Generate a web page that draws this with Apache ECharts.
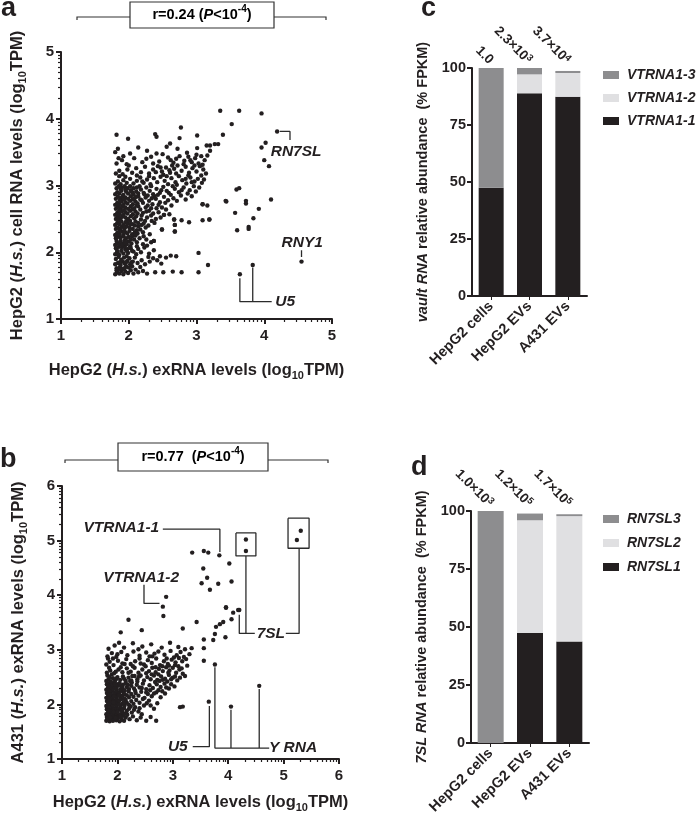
<!DOCTYPE html>
<html><head><meta charset="utf-8">
<script src="https://cdn.jsdelivr.net/npm/echarts@6/dist/echarts.min.js"></script>
<style>html,body{margin:0;padding:0;background:#fff}#c{width:697px;height:833px}</style>
</head><body><div id="c"></div>
<script>
// ---------------- DATA ----------------
const categories = ['HepG2 cells', 'HepG2 EVs', 'A431 EVs'];
const vtrna1_1 = [47.5, 88.9, 87.4];
const vtrna1_2 = [0, 8.3, 10.4];
const vtrna1_3 = [52.5, 2.8, 0.9];
const vaultFold = [['1.0', ''], ['2.3×10', '3'], ['3.7×10', '4']];
const rn7sl1 = [0, 47.4, 43.8];
const rn7sl2 = [0, 48.6, 54.0];
const rn7sl3 = [100, 2.9, 0.8];
const sl7Fold = [['1.0×10', '3'], ['1.2×10', '5'], ['1.7×10', '5']];
const logMinor = [0.301, 0.477, 0.602, 0.699, 0.778, 0.845, 0.903, 0.954];

// Panel a: HepG2 exRNA (x) vs HepG2 cell RNA (y), log10 TPM
const aPoints = [
[1.80,1.67],[1.83,1.70],[1.86,1.68],[1.89,1.72],[1.92,1.67],[1.95,1.71],[1.99,1.69],[2.03,1.73],[2.07,1.68],[1.82,1.76],[1.87,1.78],[1.91,1.75],[1.96,1.79],[2.00,1.77],[2.10,1.74],[2.14,1.70],[2.21,1.72],[2.27,1.68],[2.39,1.70],[2.51,1.70],[2.65,1.71],[2.78,1.70],[3.03,1.70],[2.05,1.79],[2.17,1.78],
[1.80,1.82],[1.84,1.84],[1.88,1.81],[1.91,1.86],[1.94,1.83],[1.98,1.87],[2.02,1.82],[2.06,1.86],[1.81,1.90],[1.85,1.93],[1.89,1.89],[1.93,1.92],[1.97,1.94],[2.01,1.91],[2.09,1.92],[2.13,1.84],[2.19,1.88],[2.24,1.82],[2.31,1.86],[2.42,1.88],[2.48,1.83],[3.17,1.81],[2.29,1.93],[2.36,1.91],[2.46,1.94],[2.55,1.92],[2.62,1.95],[2.70,1.94],
[1.80,1.97],[1.83,2.00],[1.86,1.96],[1.89,2.02],[1.92,1.98],[1.95,2.04],[1.99,1.99],[2.03,2.06],[2.07,2.01],[1.81,2.06],[1.85,2.08],[1.90,2.07],[1.94,2.09],[1.98,2.05],[2.02,2.09],[2.11,1.97],[2.14,2.05],[2.18,2.00],[2.23,2.07],[2.30,1.98],[2.37,2.03],[3.03,1.99],[2.12,2.09],[2.27,2.10],
[1.80,2.11],[1.83,2.14],[1.86,2.12],[1.88,2.17],[1.91,2.13],[1.94,2.18],[1.97,2.12],[2.00,2.16],[2.04,2.13],[2.08,2.19],[1.81,2.21],[1.84,2.23],[1.88,2.22],[1.92,2.24],[1.96,2.21],[2.00,2.23],[2.05,2.24],[2.12,2.15],[2.16,2.21],[2.21,2.12],[2.26,2.19],[2.33,2.15],[2.37,2.17],[2.22,2.24],
[1.80,2.26],[1.83,2.29],[1.86,2.27],[1.89,2.31],[1.92,2.26],[1.95,2.30],[1.98,2.28],[2.01,2.32],[2.05,2.27],[2.09,2.30],[1.81,2.35],[1.84,2.37],[1.87,2.34],[1.90,2.38],[1.94,2.36],[1.97,2.39],[2.01,2.37],[2.06,2.35],[2.13,2.28],[2.17,2.34],[2.21,2.30],[2.25,2.37],[2.31,2.27],[2.49,2.34],[2.68,2.31],[2.68,2.41],[2.14,2.39],
[1.80,2.41],[1.83,2.44],[1.86,2.42],[1.89,2.46],[1.92,2.41],[1.95,2.45],[1.98,2.43],[2.02,2.47],[2.06,2.42],[2.10,2.46],[1.81,2.50],[1.84,2.53],[1.88,2.51],[1.91,2.54],[1.95,2.52],[1.99,2.50],[2.03,2.54],[2.08,2.51],[2.14,2.44],[2.18,2.49],[2.22,2.43],[2.27,2.52],[2.34,2.47],[2.67,2.49],[2.78,2.48],[2.89,2.45],[3.09,2.48],[3.19,2.49],[2.52,2.56],[2.40,2.50],
[1.80,2.56],[1.83,2.59],[1.86,2.57],[1.89,2.61],[1.92,2.56],[1.95,2.60],[1.98,2.58],[2.02,2.62],[2.06,2.57],[2.10,2.61],[1.81,2.65],[1.84,2.68],[1.88,2.66],[1.91,2.69],[1.95,2.67],[1.99,2.65],[2.03,2.69],[2.08,2.66],[2.13,2.58],[2.17,2.64],[2.21,2.59],[2.25,2.67],[2.30,2.62],[2.36,2.58],[2.41,2.66],[2.14,2.69],[2.28,2.70],
[1.80,2.71],[1.83,2.74],[1.86,2.72],[1.89,2.76],[1.92,2.71],[1.95,2.75],[1.98,2.73],[2.02,2.77],[2.06,2.72],[2.10,2.76],[1.81,2.80],[1.84,2.83],[1.88,2.81],[1.91,2.84],[1.95,2.82],[1.99,2.80],[2.03,2.84],[2.08,2.81],[2.13,2.73],[2.17,2.79],[2.21,2.74],[2.25,2.82],[2.30,2.77],[2.35,2.72],[2.40,2.80],[2.46,2.75],[2.52,2.83],[2.58,2.78],[2.14,2.84],[2.28,2.85],[2.38,2.84],[3.09,2.72],
[1.80,2.87],[1.83,2.90],[1.86,2.88],[1.89,2.92],[1.92,2.86],[1.96,2.91],[1.99,2.88],[2.03,2.93],[2.07,2.87],[2.11,2.91],[1.82,2.96],[1.85,2.99],[1.90,2.97],[1.94,2.99],[1.98,2.96],[2.02,2.99],[2.07,2.96],[2.14,2.88],[2.18,2.94],[2.22,2.89],[2.26,2.97],[2.31,2.92],[2.36,2.87],[2.41,2.95],[2.46,2.89],[2.51,2.98],[2.56,2.92],[2.62,2.86],[2.68,2.95],[2.74,2.90],[2.81,2.97],[2.16,2.99],[2.33,2.99],[2.90,2.93],[2.96,2.99],
[1.80,3.03],[1.84,3.06],[1.88,3.02],[1.92,3.08],[1.97,3.04],[2.02,3.10],[2.07,3.03],[2.12,3.07],[2.17,3.12],[2.22,3.04],[2.27,3.09],[2.32,3.02],[2.37,3.11],[2.42,3.05],[2.47,3.13],[2.53,3.07],[2.58,3.02],[2.63,3.11],[2.69,3.05],[2.74,3.14],[2.79,3.08],[2.85,3.03],[2.91,3.12],[2.97,3.06],[3.02,3.10],[3.08,3.04],[1.86,3.14],[1.95,3.13],[2.56,3.14],[2.88,3.15],
[1.81,3.18],[1.86,3.22],[1.91,3.17],[1.98,3.24],[2.05,3.19],[2.11,3.26],[2.18,3.20],[2.24,3.28],[2.30,3.18],[2.36,3.24],[2.43,3.29],[2.49,3.21],[2.55,3.27],[2.61,3.19],[2.67,3.25],[2.72,3.30],[2.78,3.22],[2.84,3.28],[2.89,3.19],[2.94,3.26],[3.00,3.21],[3.05,3.29],[3.10,3.24],[3.14,3.18],[2.97,3.30],[2.64,3.30],
[1.82,3.33],[1.90,3.38],[1.97,3.32],[2.08,3.41],[2.20,3.35],[2.33,3.43],[2.45,3.36],[2.58,3.42],[2.66,3.34],[2.75,3.44],[2.82,3.37],[2.88,3.43],[2.93,3.35],[2.98,3.41],[3.03,3.33],[3.07,3.44],[3.12,3.38],[3.16,3.45],[2.70,3.40],
[1.80,3.50],[1.84,3.55],[2.14,3.57],[2.27,3.52],[2.41,3.48],[2.56,3.58],[2.72,3.55],[2.86,3.49],[3.01,3.56],[3.15,3.60],[3.20,3.52],[3.27,3.62],
[1.82,3.76],[1.99,3.70],[2.39,3.77],[2.41,3.73],[2.61,3.63],[2.75,3.71],[2.77,3.87],[3.01,3.75],[3.32,3.62],[3.39,3.76],[3.20,3.60],[3.35,4.12],[3.63,4.12],[3.96,4.08],[3.52,3.92],[4.19,3.81],[4.02,3.64],[3.96,3.57],[4.00,3.38],[4.07,3.29],
[3.59,2.94],[3.63,2.96],[3.09,2.72],[3.44,2.76],[3.73,2.77],[3.73,2.73],[4.10,2.79],[3.57,2.59],[3.92,2.65],[3.84,2.51],[3.60,2.33],[3.77,2.38],[3.77,2.35],[2.52,2.56],[2.67,2.49],[2.68,2.41],[2.68,2.31],[3.19,2.49],[2.49,2.34],[2.37,2.17],[3.16,2.70],[3.43,2.77],
[3.64,1.67],[3.83,1.81],[4.55,1.86],
[2.12,2.33],[2.19,2.41],[2.24,2.47],[2.29,2.40],[2.33,2.55],[2.38,2.44],[2.44,2.60],[2.47,2.52],[2.55,2.64],[2.60,2.57],[2.19,2.55],[2.26,2.61],[2.33,2.66],[2.44,2.71],[2.49,2.67],[2.54,2.74],[2.63,2.70],[2.66,2.81],[2.71,2.77],[2.77,2.85],[2.84,2.79],[2.87,2.88],[2.93,2.84],[2.99,2.91],[3.04,2.97],[3.07,3.15],[3.11,3.09],[2.19,2.78],[2.23,2.87],[2.34,2.81],[2.43,2.86],[2.48,2.93],[2.59,2.89],[2.65,2.99],[2.71,3.01],[2.78,2.93],[2.84,3.10],[2.93,3.05],[2.12,2.97],[2.20,3.06],[2.30,3.14],[2.40,3.20],[2.51,3.16],[2.60,3.23],[2.70,3.18],[2.81,3.32],[2.91,3.38],[3.00,3.46],[3.09,3.31],[2.47,3.27],[2.36,3.33],[2.26,3.40],[2.12,3.15],[2.00,3.30],[1.92,3.44],[1.85,3.41],[2.02,3.48],[2.50,3.47],[2.62,3.38],
[1.82,1.73],[1.85,1.75],[1.94,1.76],[1.87,1.85],[1.96,1.85],[2.04,1.85],[1.84,1.97],[1.97,2.02],[2.05,2.02],[1.82,2.17],[1.95,2.15],[2.03,2.19],[1.86,2.31],[1.93,2.32],[2.03,2.42],[1.97,2.47],[1.85,2.48],[1.86,2.63],[1.93,2.63],[2.05,2.64],[1.87,2.78],[1.93,2.79],[2.06,2.79],[1.88,2.95],[1.95,2.94],[2.05,2.90],[1.83,2.02],[1.90,2.11],[2.10,2.25],[2.09,2.40],[2.11,2.54],[2.12,2.70],[2.11,2.83]
];

// Panel b: HepG2 exRNA (x) vs A431 exRNA (y), log10 TPM
const bPoints = [
[1.80,1.70],[1.83,1.72],[1.86,1.69],[1.89,1.73],[1.92,1.70],[1.95,1.74],[1.98,1.71],[2.01,1.75],[2.04,1.69],[2.08,1.72],[2.12,1.70],[1.81,1.77],[1.85,1.79],[1.90,1.78],[1.94,1.80],[1.99,1.78],[2.03,1.79],[2.15,1.76],[2.22,1.73],[2.35,1.71],[2.52,1.70],[2.70,1.70],[2.10,1.79],
[1.80,1.82],[1.83,1.85],[1.86,1.81],[1.89,1.87],[1.92,1.83],[1.95,1.88],[1.98,1.84],[2.01,1.89],[2.05,1.82],[2.09,1.86],[2.13,1.83],[1.81,1.91],[1.85,1.94],[1.88,1.90],[1.91,1.95],[1.94,1.92],[1.98,1.94],[2.02,1.91],[2.06,1.94],[2.17,1.88],[2.21,1.92],[2.26,1.85],[2.30,1.90],[2.38,1.87],[2.12,1.93],[2.44,1.82],
[1.80,1.97],[1.83,2.00],[1.86,1.96],[1.89,2.02],[1.92,1.98],[1.95,2.03],[1.98,1.99],[2.01,2.04],[2.05,1.97],[2.09,2.01],[2.13,1.98],[2.17,2.03],[1.81,2.06],[1.84,2.09],[1.88,2.05],[1.91,2.10],[1.95,2.07],[1.99,2.09],[2.03,2.06],[2.07,2.10],[2.21,1.99],[2.25,2.06],[2.29,2.01],[2.34,2.08],[2.40,2.03],[2.48,1.98],[2.15,2.08],[2.57,2.07],[2.66,1.92],[2.72,2.02],
[1.80,2.12],[1.83,2.15],[1.86,2.11],[1.89,2.17],[1.92,2.13],[1.95,2.18],[1.98,2.14],[2.01,2.19],[2.05,2.12],[2.09,2.16],[2.13,2.11],[2.17,2.17],[1.81,2.21],[1.84,2.24],[1.88,2.20],[1.91,2.25],[1.95,2.22],[1.99,2.24],[2.03,2.21],[2.07,2.25],[2.11,2.22],[2.21,2.13],[2.25,2.19],[2.29,2.14],[2.33,2.21],[2.38,2.16],[2.43,2.23],[2.49,2.12],[2.55,2.19],[2.62,2.15],[2.20,2.24],[2.70,2.22],[2.78,2.13],[2.86,2.20],
[1.80,2.27],[1.83,2.30],[1.86,2.26],[1.89,2.32],[1.92,2.28],[1.95,2.33],[1.98,2.29],[2.01,2.34],[2.05,2.27],[2.09,2.31],[2.13,2.26],[2.17,2.32],[2.21,2.28],[1.81,2.37],[1.85,2.39],[1.90,2.36],[1.94,2.40],[1.99,2.37],[2.04,2.39],[2.10,2.36],[2.15,2.39],[2.25,2.34],[2.30,2.29],[2.35,2.36],[2.40,2.31],[2.46,2.38],[2.52,2.28],[2.58,2.35],[2.64,2.30],[2.71,2.37],[2.78,2.32],[2.26,2.40],[2.85,2.38],[2.93,2.29],
[1.80,2.43],[1.84,2.46],[1.88,2.42],[1.92,2.48],[1.96,2.44],[2.00,2.50],[2.05,2.45],[2.10,2.51],[2.15,2.43],[2.20,2.49],[2.25,2.44],[2.31,2.52],[2.36,2.46],[2.42,2.53],[2.48,2.44],[2.54,2.50],[2.60,2.46],[2.66,2.53],[2.72,2.45],[2.79,2.51],[2.86,2.47],[2.93,2.54],[1.82,2.53],[1.90,2.55],[2.74,2.55],[3.00,2.49],[3.08,2.44],
[1.81,2.58],[1.87,2.62],[1.94,2.57],[2.02,2.64],[2.09,2.59],[2.17,2.66],[2.24,2.60],[2.31,2.67],[2.38,2.58],[2.45,2.64],[2.51,2.70],[2.57,2.61],[2.63,2.67],[2.69,2.59],[2.75,2.65],[2.82,2.61],[2.88,2.68],[2.94,2.62],[3.00,2.67],[3.06,2.58],[3.12,2.64],[3.22,2.52],[3.18,2.56],[2.92,2.58],[3.04,2.72],
[1.80,2.73],[1.86,2.78],[1.93,2.72],[2.01,2.80],[2.09,2.75],[2.16,2.83],[2.24,2.74],[2.32,2.79],[2.40,2.84],[2.48,2.73],[2.55,2.81],[2.62,2.76],[2.70,2.84],[2.77,2.72],[2.84,2.79],[2.91,2.74],[2.98,2.82],[3.05,2.77],[3.11,2.85],[3.17,2.79],[3.26,2.71],[1.83,2.84],
[1.82,2.88],[1.90,2.94],[1.98,2.87],[2.07,2.96],[2.18,2.90],[2.29,2.97],[2.40,2.89],[2.52,2.95],[2.63,2.88],[2.74,2.97],[2.85,2.91],[2.96,2.98],[3.07,2.90],[3.14,2.96],[3.20,2.87],[3.30,2.92],[3.34,3.03],
[1.84,3.02],[1.95,3.08],[2.12,3.04],[2.28,3.12],[2.45,3.06],[2.61,3.10],[2.80,3.04],[2.95,3.13],[3.10,3.05],[3.22,3.01],[2.03,3.13],[2.38,3.01],
[2.06,3.32],[2.20,3.55],[2.44,3.36],[3.18,3.39],[3.43,3.51],[2.82,3.79],[2.83,3.62],[2.88,3.97],[3.56,3.19],[3.56,3.03],[3.56,2.80],
[3.96,3.77],[4.09,3.68],[4.18,3.73],[4.06,3.56],[3.91,3.51],[3.85,3.47],[3.78,3.42],[3.76,3.29],[3.73,3.18],[3.95,3.23],[4.20,3.73],
[3.35,4.78],[3.56,4.81],[3.64,4.78],[3.84,4.73],[4.02,4.58],[3.55,4.49],[3.62,4.32],[3.52,4.22],[3.82,4.21],[4.06,4.25],[3.67,4.10],[3.96,3.78],
[4.32,5.02],[4.32,4.81],[5.31,5.18],[5.24,5.01],
[3.65,2.05],[3.76,2.73],[4.05,1.96],[4.56,2.34],[3.13,1.95],[3.18,1.96],
[2.24,1.96],[2.32,1.95],[2.40,1.93],[2.46,2.10],[2.53,2.02],[2.60,1.98],[2.52,2.22],[2.59,2.26],[2.66,2.20],[2.74,2.26],[2.81,2.24],[2.88,2.31],[2.97,2.37],[3.03,2.33],[2.68,2.41],[2.76,2.43],[2.82,2.45],[2.90,2.42],[2.97,2.46],[3.04,2.51],[3.13,2.49],[2.44,2.30],[2.36,2.42],[2.27,2.52],[2.39,2.51],[2.52,2.57],[2.62,2.55],[2.69,2.68],[2.81,2.70],[2.93,2.71],[3.10,2.70],[3.16,2.66],[2.20,2.58],[2.28,2.70],[2.13,2.74],[2.42,2.75],[2.58,2.88],[2.67,2.93],[2.89,2.84],[3.02,2.86],[3.24,2.83],
[1.82,1.74],[1.87,1.76],[1.97,1.75],[2.06,1.77],[1.84,1.88],[1.93,1.86],[2.00,1.86],[2.08,1.89],[1.85,2.02],[1.93,2.04],[2.03,2.00],[2.11,2.04],[1.86,2.18],[1.94,2.15],[2.03,2.17],[2.12,2.19],[1.84,2.33],[1.96,2.36],[2.07,2.33],[2.19,2.36],[1.86,2.50],[1.98,2.47],[2.12,2.47],[2.23,2.43],[1.97,2.60],[2.06,2.68],[1.85,2.67],[1.92,2.84],[2.00,2.92],[2.18,1.81],[2.28,1.78],[2.42,1.76],[2.60,1.77],[2.32,2.25]
];

// Annotation leaders and labels (data coordinates)
const aLeaders = [
  [[3.64,1.61],[3.64,1.26],[4.11,1.26]],
  [[3.83,1.77],[3.83,1.26]],
  [[4.55,2.03],[4.55,1.93]],
  [[4.23,3.81],[4.38,3.81],[4.38,3.68]]
];
const aLabels = [
  {name:'RN7SL', value:[4.47,3.50]},
  {name:'RNY1', value:[4.56,2.15]},
  {name:'U5', value:[4.31,1.26]}
];
const bLeaders = [
  [[2.82,5.21],[3.85,5.21],[3.85,4.79]],
  [[4.14,5.14],[4.50,5.14],[4.50,4.72],[4.14,4.72],[4.14,5.14]],
  [[4.32,4.72],[4.32,3.30]],
  [[4.20,3.64],[4.20,3.30],[4.48,3.30]],
  [[5.08,5.41],[5.46,5.41],[5.46,4.86],[5.08,4.86],[5.08,5.41]],
  [[5.28,4.86],[5.28,3.30],[5.04,3.30]],
  [[2.48,4.19],[2.48,3.85],[2.76,3.85]],
  [[3.36,1.225],[3.66,1.225],[3.66,1.97]],
  [[3.76,2.68],[3.76,1.20],[4.74,1.20]],
  [[4.05,1.90],[4.05,1.20]],
  [[4.56,2.28],[4.56,1.20]]
];
const bLabels = [
  {name:'VTRNA1-1', value:[2.07,5.23]},
  {name:'VTRNA1-2', value:[2.43,4.32]},
  {name:'7SL', value:[4.77,3.30]},
  {name:'U5', value:[3.09,1.225]},
  {name:'Y RNA', value:[5.17,1.21]}
];

// ---------------- STYLE ----------------
const FONT = '"Liberation Sans", Arial, Helvetica, sans-serif';
const INK = '#231f20';
const C_DARK = '#231f20', C_MID = '#8d8d8f', C_LIGHT = '#e0e0e2';

function nameRich(size) {
  return {
    b: {fontFamily: FONT, fontWeight: 'bold', fontSize: size, color: INK, lineHeight: 22},
    bi: {fontFamily: FONT, fontWeight: 'bold', fontStyle: 'italic', fontSize: size, color: INK, lineHeight: 22},
    sub: {fontFamily: FONT, fontWeight: 'bold', fontSize: Math.round(size * 0.66), color: INK, verticalAlign: 'bottom', lineHeight: 12},
    sup: {fontFamily: FONT, fontWeight: 'bold', fontSize: Math.round(size * 0.66), color: INK, verticalAlign: 'top', lineHeight: 12}
  };
}
function minorTicks(lo, hi) {
  const out = [];
  for (let k = lo; k < hi; k++) logMinor.forEach(m => out.push(+(k + m).toFixed(3)));
  return out;
}
function mainValueAxis(grid, max, name, nameGap, isY) {
  return {
    type: 'value', gridIndex: grid, min: 1, max: max, interval: 1,
    name: name, nameLocation: 'middle', nameGap: nameGap, nameRotate: isY ? 90 : 0,
    nameTextStyle: {rich: nameRich(16.5)},
    axisLine: {show: true, onZero: false, lineStyle: {color: INK, width: 2}},
    axisTick: {show: true, length: 5, lineStyle: {color: INK, width: 2}},
    axisLabel: {color: INK, fontFamily: FONT, fontWeight: 'bold', fontSize: 15, margin: isY ? 7 : 9},
    splitLine: {show: false}
  };
}
function minorValueAxis(grid, max, isY) {
  return {
    type: 'value', gridIndex: grid, min: 1, max: max, interval: 1,
    position: isY ? 'left' : 'bottom',
    axisLine: {show: false, onZero: false},
    axisTick: {show: true, length: 3, customValues: minorTicks(1, max), lineStyle: {color: INK, width: 1.2}},
    axisLabel: {show: false},
    splitLine: {show: false}
  };
}
function catAxis(grid) {
  return {
    type: 'category', gridIndex: grid, data: categories, position: 'bottom',
    axisLine: {show: true, lineStyle: {color: INK, width: 2}},
    axisTick: {show: true, alignWithLabel: true, length: 4, lineStyle: {color: INK, width: 1}},
    axisLabel: {rotate: 45, color: INK, fontFamily: FONT, fontWeight: 'bold', fontSize: 14.5, margin: 8, interval: 0}
  };
}
function foldAxis(grid, fold) {
  return {
    type: 'category', gridIndex: grid, data: categories, position: 'top',
    axisLine: {show: false}, axisTick: {show: false},
    axisLabel: {
      rotate: 45, margin: 6, interval: 0,
      formatter: (v, i) => '{n|' + fold[i][0] + '}' + (fold[i][1] ? '{s|' + fold[i][1] + '}' : ''),
      rich: {
        n: {fontFamily: FONT, fontWeight: 'bold', fontSize: 13.5, color: INK, lineHeight: 16},
        s: {fontFamily: FONT, fontWeight: 'bold', fontSize: 9.5, color: INK, verticalAlign: 'top', lineHeight: 10}
      }
    }
  };
}
function pctAxis(grid, name) {
  return {
    type: 'value', gridIndex: grid, min: 0, max: 100, interval: 25,
    name: name, nameLocation: 'middle', nameGap: 38, nameRotate: 90,
    nameTextStyle: {rich: nameRich(14.5)},
    axisLine: {show: true, lineStyle: {color: INK, width: 2}},
    axisTick: {show: true, length: 5, lineStyle: {color: INK, width: 2}},
    axisLabel: {color: INK, fontFamily: FONT, fontWeight: 'bold', fontSize: 14.5, margin: 6},
    splitLine: {show: false}
  };
}

const leaderStyle = {color: '#2b2b2b', width: 1.3};
function leaderSeries(list, xi, yi) {
  return list.map(pts => ({
    type: 'line', xAxisIndex: xi, yAxisIndex: yi, data: pts, symbol: 'none',
    lineStyle: leaderStyle, silent: true, z: 3, clip: false
  }));
}
function labelSeries(list, xi, yi) {
  return {
    type: 'scatter', xAxisIndex: xi, yAxisIndex: yi, data: list, symbolSize: 0, silent: true, z: 6, clip: false,
    itemStyle: {color: INK, opacity: 1},
    label: {show: true, position: 'inside', formatter: '{b}', color: INK, opacity: 1, textBorderWidth: 0, textBorderColor: 'transparent',
      fontFamily: FONT, fontWeight: 'bold', fontStyle: 'italic', fontSize: 15.5}
  };
}
function barSeries(name, data, xi, yi, color, stack, w) {
  return {type: 'bar', name: name, data: data, xAxisIndex: xi, yAxisIndex: yi, stack: stack, barWidth: w,
    itemStyle: {color: color}, silent: true};
}
function legendCfg(names, top, gap) {
  return {data: names, orient: 'vertical', left: 603, top: top, padding: 0, itemWidth: 16, itemHeight: 8, itemGap: gap, icon: 'rect',
    selectedMode: false, textStyle: {color: INK, fontFamily: FONT, fontWeight: 'bold', fontStyle: 'italic', fontSize: 14, padding: [0, 0, 0, 3]}};
}

const xName = '{b|HepG2 (}{bi|H.s.}{b|) exRNA levels (log}{sub|10}{b|TPM)}';

const option = {
  backgroundColor: '#fff',
  animation: false,
  grid: [
    {left: 61, top: 52, width: 271, height: 267},
    {left: 62, top: 486, width: 277, height: 273},
    {left: 472, top: 68, width: 115, height: 228},
    {left: 471, top: 511, width: 118, height: 232}
  ],
  xAxis: [
    mainValueAxis(0, 5, xName, 40, false),
    minorValueAxis(0, 5, false),
    mainValueAxis(1, 6, xName, 32, false),
    minorValueAxis(1, 6, false),
    catAxis(2), foldAxis(2, vaultFold),
    catAxis(3), foldAxis(3, sl7Fold)
  ],
  yAxis: [
    mainValueAxis(0, 5, '{b|HepG2 (}{bi|H.s.}{b|) cell RNA levels (log}{sub|10}{b|TPM)}', 33, true),
    minorValueAxis(0, 5, true),
    mainValueAxis(1, 6, '{b|A431 (}{bi|H.s.}{b|) exRNA levels (log}{sub|10}{b|TPM)}', 33, true),
    minorValueAxis(1, 6, true),
    pctAxis(2, '{bi|vault RNA}{b| relative abundance  (% FPKM)}'),
    pctAxis(3, '{bi|7SL RNA}{b| relative abundance  (% FPKM)}')
  ],
  legend: [
    legendCfg(['VTRNA1-3', 'VTRNA1-2', 'VTRNA1-1'], 68, 9),
    legendCfg(['RN7SL3', 'RN7SL2', 'RN7SL1'], 512, 10)
  ],
  series: [
    ...leaderSeries(aLeaders, 0, 0),
    ...leaderSeries(bLeaders, 2, 2),
    {type: 'scatter', xAxisIndex: 0, yAxisIndex: 0, data: aPoints, symbolSize: 4.4, itemStyle: {color: INK, opacity: 1}, silent: true, z: 5},
    {type: 'scatter', xAxisIndex: 2, yAxisIndex: 2, data: bPoints, symbolSize: 4.4, itemStyle: {color: INK, opacity: 1}, silent: true, z: 5},
    labelSeries(aLabels, 0, 0),
    labelSeries(bLabels, 2, 2),
    barSeries('VTRNA1-1', vtrna1_1, 4, 4, C_DARK, 'v', 25),
    barSeries('VTRNA1-2', vtrna1_2, 4, 4, C_LIGHT, 'v', 25),
    barSeries('VTRNA1-3', vtrna1_3, 4, 4, C_MID, 'v', 25),
    barSeries('RN7SL1', rn7sl1, 6, 5, C_DARK, 's', 26),
    barSeries('RN7SL2', rn7sl2, 6, 5, C_LIGHT, 's', 26),
    barSeries('RN7SL3', rn7sl3, 6, 5, C_MID, 's', 26)
  ],
  graphic: [
    {type: 'text', x: 1, y: 22, style: {text: 'a', font: 'bold 27px ' + FONT, fill: INK, verticalAlign: 'bottom'}},
    {type: 'text', x: 0, y: 473, style: {text: 'b', font: 'bold 27px ' + FONT, fill: INK, verticalAlign: 'bottom'}},
    {type: 'text', x: 421, y: 22, style: {text: 'c', font: 'bold 27px ' + FONT, fill: INK, verticalAlign: 'bottom'}},
    {type: 'text', x: 411, y: 481, style: {text: 'd', font: 'bold 27px ' + FONT, fill: INK, verticalAlign: 'bottom'}},
    {type: 'polyline', shape: {points: [[77, 20], [77, 17], [326, 17], [326, 20]]}, style: {stroke: '#333', lineWidth: 1.2, fill: null}},
    {type: 'rect', shape: {x: 130, y: 2, width: 144, height: 26}, style: {fill: '#fff', stroke: '#333', lineWidth: 1.2}},
    {type: 'text', x: 202, y: 15, style: {text: '{b|r=0.24 (}{bi|P}{b|<10}{sup|-4}{b|)}', rich: nameRich(14.5), align: 'center', verticalAlign: 'middle'}},
    {type: 'polyline', shape: {points: [[65, 463], [65, 460], [328, 460], [328, 463]]}, style: {stroke: '#333', lineWidth: 1.2, fill: null}},
    {type: 'rect', shape: {x: 118, y: 443, width: 150, height: 28}, style: {fill: '#fff', stroke: '#333', lineWidth: 1.2}},
    {type: 'text', x: 193, y: 457, style: {text: '{b|r=0.77  (}{bi|P}{b|<10}{sup|-4}{b|)}', rich: nameRich(14.5), align: 'center', verticalAlign: 'middle'}}
  ]
};

const chart = echarts.init(document.getElementById('c'), null, {renderer: 'canvas'});
chart.setOption(option);
</script>
</body></html>
